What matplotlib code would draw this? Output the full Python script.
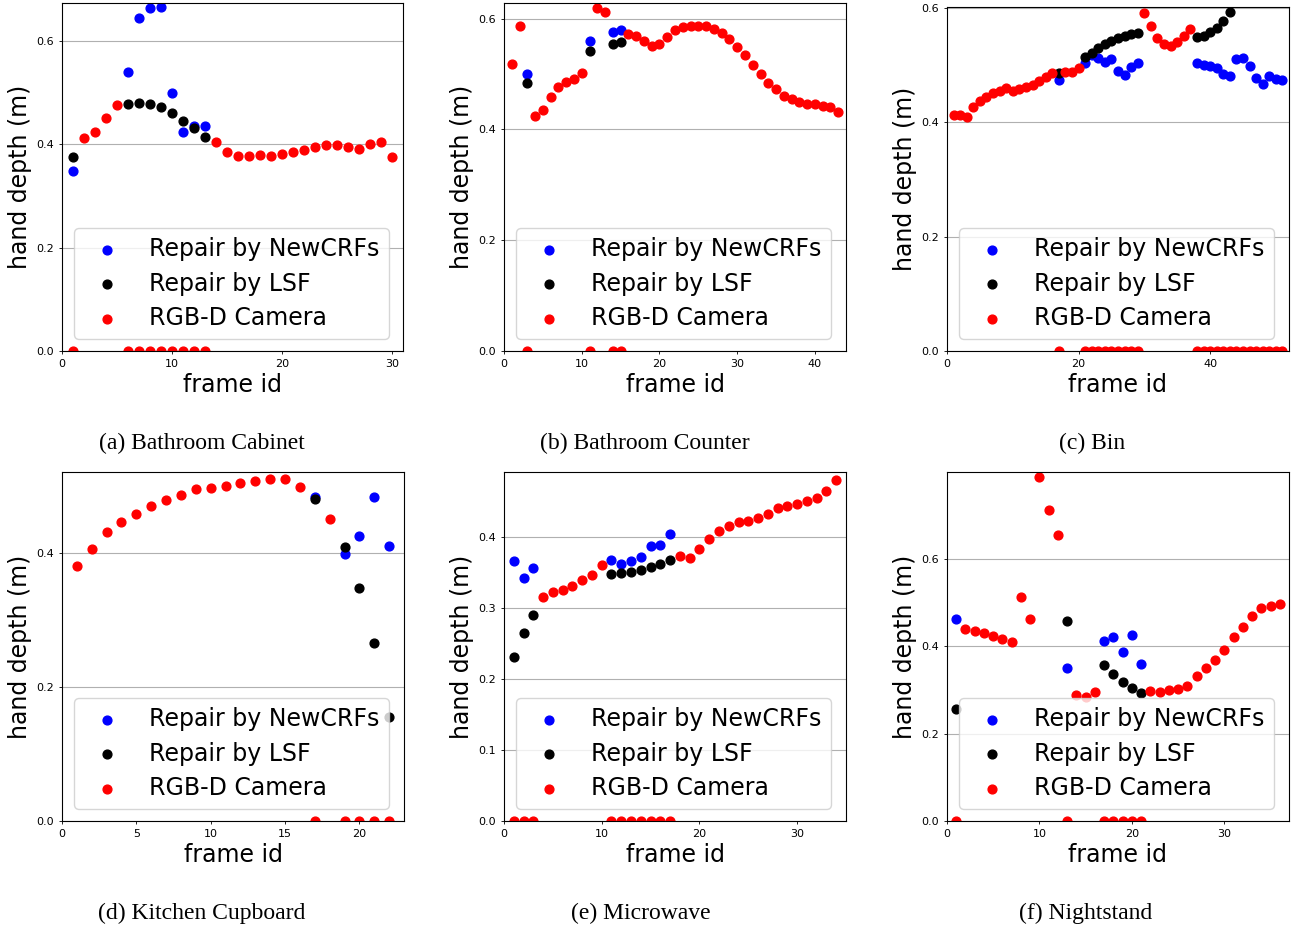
import numpy as np
import matplotlib
matplotlib.use("Agg")
import matplotlib.pyplot as plt
from matplotlib.ticker import MultipleLocator

nan = np.nan

# (a) Bathroom Cabinet
a_cam = [0, .412, .424, .452, .4755, 0, 0, 0, 0, 0, 0, 0, 0, .404, .386, .377,
         .377, .379, .377, .381, .385, .390, .395, .399, .399, .395, .392, .401,
         .404, .376]
a_gap = [1, 6, 7, 8, 9, 10, 11, 12, 13]
a_lsf = [.376, .478, .481, .479, .472, .460, .446, .431, .415]
a_crf = [.349, .541, .645, .665, .666, .499, .425, .435, .435]

# (b) Bathroom Counter
b_cam = [.518, .586, 0, .424, .435, .459, .477, .485, .491, .501, 0, .619, .612,
         0, 0, .572, .569, .560, .551, .554, .566, .580, .584, .587, .587, .586,
         .581, .573, .563, .548, .535, .517, .500, .484, .473, .461, .454, .449,
         .446, .445, .443, .441, .431]
b_gap = [3, 11, 14, 15]
b_lsf = [.483, .541, .554, .557]
b_crf = [.500, .560, .575, .580]

# (c) Bin
c_cam = [.413, .412, .409, .427, .436, .444, .450, .455, .460, .455, .457, .461,
         .464, .471, .479, .486, 0, .487, .488, .494, 0, 0, 0, 0, 0, 0, 0, 0, 0,
         .591, .568, .547, .536, .532, .539, .551, .562,
         0, 0, 0, 0, 0, 0, 0, 0, 0, 0, 0, 0, 0, 0]
c_gap = [17, 21, 22, 23, 24, 25, 26, 27, 28, 29,
         38, 39, 40, 41, 42, 43, 44, 45, 46, 47, 48, 49, 50, 51]
c_lsf = [.486, .514, .521, .529, .536, .542, .547, .551, .554, .555,
         .549, .551, .557, .565, .577, .593, nan, nan, nan, nan, nan, nan, nan, nan]
c_crf = [.473, .503, .518, .512, .505, .510, .490, .483, .497, .503,
         .503, .499, .498, .495, .484, .480, .510, .512, .498, .477, .466, .480,
         .475, .473]

# (d) Kitchen Cupboard
d_cam = [.381, .4065, .431, .446, .459, .470, .479, .487, .495, .497, .500, .505,
         .507, .510, .510, .499, 0, .451, 0, 0, 0, 0]
d_gap = [17, 19, 20, 21, 22]
d_lsf = [.481, .4085, .348, .265, .156]
d_crf = [.484, .3985, .425, .484, .411]

# (e) Microwave
e_cam = [0, 0, 0, .315, .3225, .3258, .331, .339, .347, .361, 0, 0, 0, 0, 0, 0, 0,
         .3737, .3709, .3826, .3967, .4089, .416, .4207, .423, .4268, .4319,
         .4404, .4441, .446, .4502, .4549, .4648, .4808]
e_gap = [1, 2, 3, 11, 12, 13, 14, 15, 16, 17]
e_lsf = [.2315, .2648, .2901, .3479, .3493, .3512, .3535, .3577, .362, .3676]
e_crf = [.3657, .3418, .3563, .3671, .3624, .3657, .3714, .3873, .3892, .4042]

# (f) Nightstand
f_cam = [0, .439, .435, .430, .422, .416, .409, .512, .463, .787, .711, .655, 0,
         .2885, .283, .2954, 0, 0, 0, 0, 0, .2977, .294, .2992, .3008, .3084,
         .3305, .350, .3687, .3908, .4198, .4435, .468, .487, .4908, .4962]
f_gap = [1, 13, 17, 18, 19, 20, 21]
f_lsf = [.257, .458, .357, .336, .3176, .303, .2924]
f_crf = [.461, .349, .4115, .4206, .3863, .4244, .3588]

captions = ["(a) Bathroom Cabinet", "(b) Bathroom Counter", "(c) Bin",
            "(d) Kitchen Cupboard", "(e) Microwave", "(f) Nightstand"]

panels = [
    (a_cam, a_gap, a_lsf, a_crf, 0.674, 0.2, 10),
    (b_cam, b_gap, b_lsf, b_crf, 0.628, 0.2, 10),
    (c_cam, c_gap, c_lsf, c_crf, 0.601, 0.2, 20),
    (d_cam, d_gap, d_lsf, d_crf, 0.521, 0.2, 5),
    (e_cam, e_gap, e_lsf, e_crf, 0.4915, 0.1, 10),
    (f_cam, f_gap, f_lsf, f_crf, 0.798, 0.2, 10),
]

W, H = 1291, 926
fig = plt.figure(figsize=(W / 100, H / 100), dpi=100)

# pixel boxes (left, top, right, bottom)
boxes = [(62, 3, 403, 351), (504, 3, 846, 351), (947, 7, 1289, 351),
         (62, 472, 404, 821), (504, 472, 846, 821), (947, 472, 1289, 821)]
cap_pos = [(202, 443), (645, 443), (1092, 443),
           (202, 913), (641, 913), (1086, 913)]

for i, (cam, gap, lsf, crf, ytop, ystep, xstep) in enumerate(panels):
    l, t, r, b = boxes[i]
    ax = fig.add_axes([l / W, 1 - b / H, (r - l) / W, (b - t) / H])
    frames = np.arange(1, len(cam) + 1)
    ax.scatter(gap, crf, s=40, color="blue", label="Repair by NewCRFs")
    ax.scatter(gap, lsf, s=40, color="black", label="Repair by LSF")
    ax.scatter(frames, cam, s=40, color="red", label="RGB-D Camera")
    ax.set_xlim(0, len(cam) + 1)
    ax.set_ylim(0, ytop)
    ax.yaxis.set_major_locator(MultipleLocator(ystep))
    ax.xaxis.set_major_locator(MultipleLocator(xstep))
    ax.grid(axis="y", color="#b0b0b0", linewidth=0.8)
    ax.set_axisbelow(True)
    ax.tick_params(labelsize=8, length=2.5, width=0.6)
    for sp in ax.spines.values():
        sp.set_linewidth(0.8)
    ax.set_xlabel("frame id", fontsize=17, labelpad=3)
    ax.set_ylabel("hand depth (m)", fontsize=17, labelpad=3)
    ax.legend(loc="lower left", fontsize=17, handletextpad=0.8,
              labelspacing=0.43)
    cx, cy = cap_pos[i]
    fig.text(cx / W, 1 - cy / H, captions[i], ha="center", va="center",
             fontsize=17, family="Liberation Serif")

fig.savefig("out.png", dpi=100)
